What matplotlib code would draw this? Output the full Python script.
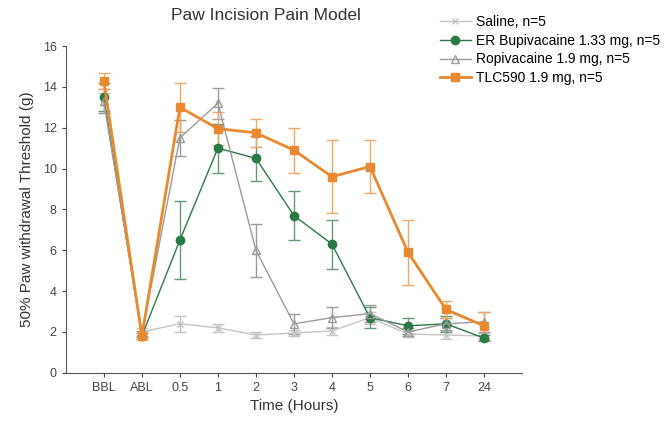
import numpy as np
import matplotlib.pyplot as plt
from matplotlib.lines import Line2D

plt.rcParams['font.family'] = ['Liberation Sans', 'DejaVu Sans']

labels = ["BBL", "ABL", "0.5", "1", "2", "3", "4", "5", "6", "7", "24"]

saline = [13.2, 2.0, 2.4, 2.2, 1.85, 1.95, 2.05, 2.7, 1.9, 1.85, 1.8]
saline_err = [0.5, 0.2, 0.4, 0.2, 0.15, 0.15, 0.2, 0.3, 0.15, 0.2, 0.15]

bupi = [13.5, 1.8, 6.5, 11.0, 10.5, 7.7, 6.3, 2.7, 2.3, 2.4, 1.7]
bupi_err = [0.7, 0.15, 1.9, 1.2, 1.1, 1.2, 1.2, 0.5, 0.4, 0.4, 0.15]

ropi = [13.3, 1.9, 11.5, 13.2, 6.0, 2.4, 2.7, 2.9, 2.0, 2.4, 2.5]
ropi_err = [0.6, 0.15, 0.9, 0.75, 1.3, 0.5, 0.5, 0.4, 0.2, 0.3, 0.5]

tlc = [14.3, 1.8, 13.0, 11.95, 11.75, 10.9, 9.6, 10.1, 5.9, 3.1, 2.3]
tlc_err = [0.4, 0.15, 1.2, 0.8, 0.7, 1.1, 1.8, 1.3, 1.6, 0.4, 0.7]

names = ["Saline, n=5", "ER Bupivacaine 1.33 mg, n=5",
         "Ropivacaine 1.9 mg, n=5", "TLC590 1.9 mg, n=5"]

x = np.arange(len(labels))

fig = plt.figure(figsize=(6.65, 4.3), dpi=100)
ax = fig.add_axes([0.099, 0.133, 0.686, 0.76])

c_sal, c_bup, c_rop, c_tlc = "#c4c4c4", "#2a7a45", "#9a9a9a", "#e8892f"

ax.errorbar(x, saline, yerr=saline_err, color=c_sal, marker="x", ms=5,
            lw=1, capsize=4, elinewidth=1)
ax.errorbar(x, bupi, yerr=bupi_err, color=c_bup, marker="o", ms=6,
            lw=1, capsize=4, elinewidth=1, ecolor="#5f9a72")
ax.errorbar(x, ropi, yerr=ropi_err, color=c_rop, marker="^", ms=6,
            mfc="none", lw=1, capsize=4, elinewidth=1)
ax.errorbar(x, tlc, yerr=tlc_err, color=c_tlc, marker="s", ms=6,
            lw=2, capsize=4, elinewidth=1, ecolor="#eea565")

ax.set_xlim(-1, 11)
ax.set_ylim(0, 16)
ax.set_xticks(x)
ax.set_xticklabels(labels)
ax.set_yticks(np.arange(0, 17, 2))
ax.tick_params(labelsize=9, colors="#444444", length=3)
for side in ["top", "right"]:
    ax.spines[side].set_visible(False)
for side in ["left", "bottom"]:
    ax.spines[side].set_color("#555555")

ax.set_xlabel("Time (Hours)", fontsize=11, color="#333333")
ax.set_ylabel("50% Paw withdrawal Threshold (g)", fontsize=11, color="#333333",
              labelpad=6)
fig.text(0.40, 0.963, "Paw Incision Pain Model", fontsize=12.5, ha="center",
         va="center", color="#333333")

handles = [
    Line2D([], [], color=c_sal, marker="x", ms=5, lw=1),
    Line2D([], [], color=c_bup, marker="o", ms=6, lw=1),
    Line2D([], [], color=c_rop, marker="^", ms=6, mfc="none", lw=1),
    Line2D([], [], color=c_tlc, marker="s", ms=6, lw=2),
]
fig.legend(handles, names, loc="upper left", bbox_to_anchor=(0.643, 0.995),
           frameon=False, fontsize=10, handlelength=2.2, labelspacing=0.35,
           handletextpad=0.4)

fig.savefig("out.png", dpi=100)
